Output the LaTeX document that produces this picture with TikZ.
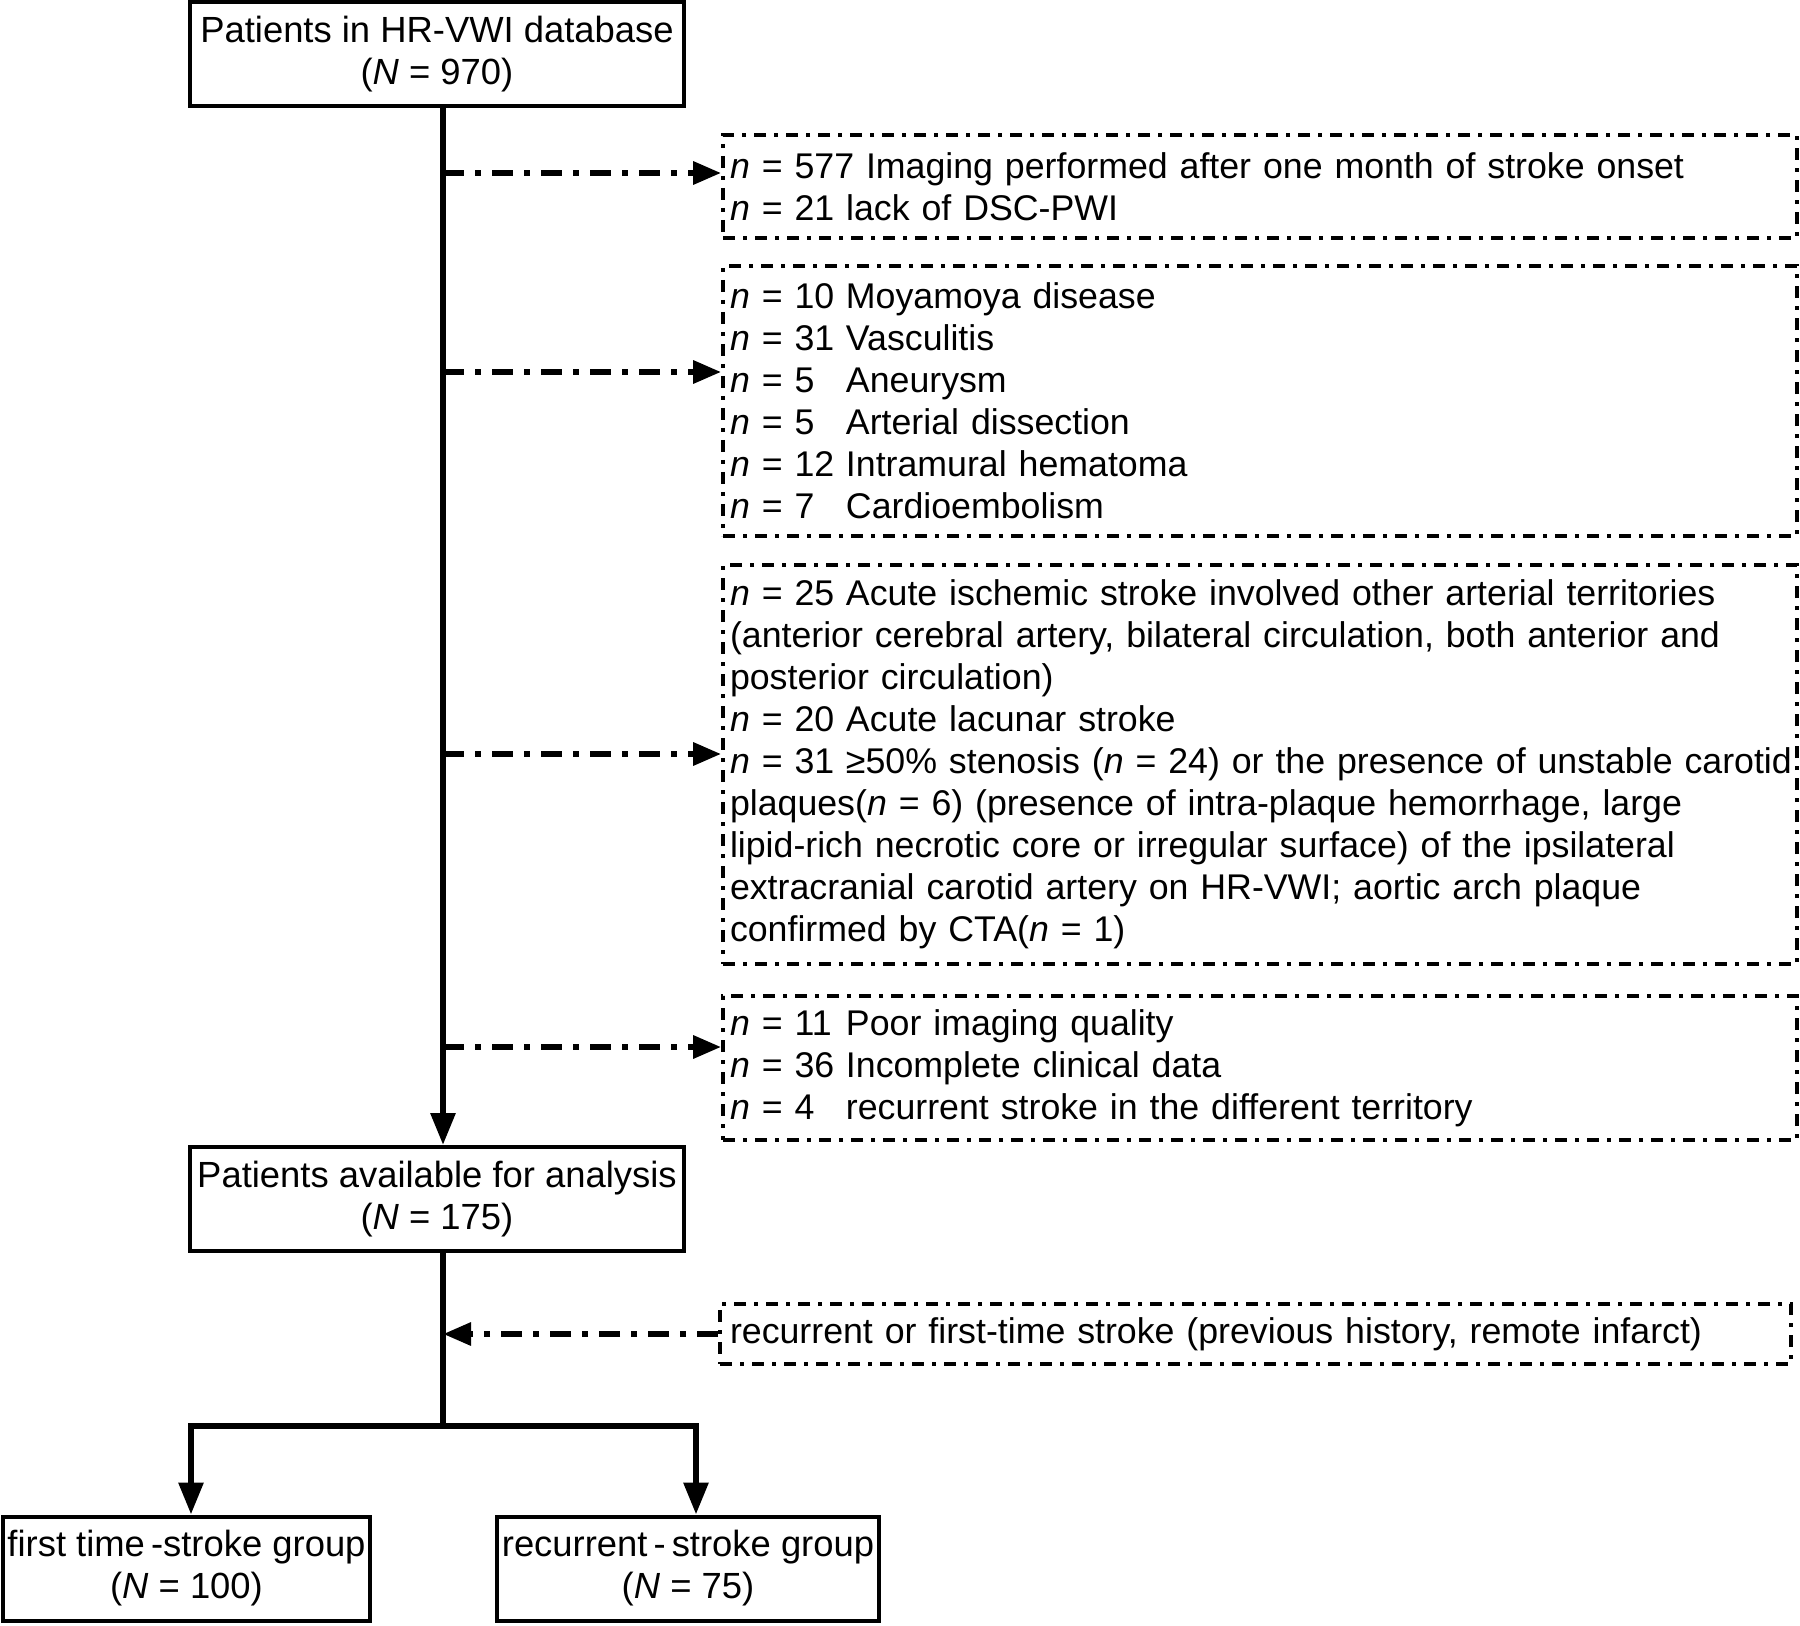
\documentclass[tikz,border=0pt]{standalone}
\usepackage{fontspec}
\setmainfont{Liberation Sans}
\usetikzlibrary{arrows.meta}
\newcommand{\ncount}[1]{\makebox[29pt][l]{\textit{n} = #1}}
\begin{document}
\begin{tikzpicture}[x=0.25pt,y=-0.25pt,
  font=\fontsize{9.1pt}{10.5pt}\selectfont,
  solidbox/.style={draw, line width=1pt, align=center, inner sep=0pt, minimum height=26pt},
  exclbox/.style={draw, line width=0.9pt, dash pattern=on 3pt off 2pt on 1pt off 2pt,
    font=\fontsize{8.93pt}{10.5pt}\selectfont,
    inner xsep=1.75pt, inner ysep=0pt, text width=265pt, align=left},
  mainline/.style={line width=1.5pt},
  tip/.style={-{Triangle[length=8pt,width=6pt]}},
  dasharrow/.style={line width=1.5pt, dash pattern=on 5.25pt off 2.75pt on 1.5pt off 2.75pt,
    -{Triangle[length=7pt,width=5.5pt]}},
]
\useasboundingbox (0,0) rectangle (1800,1626);

% solid boxes
\node[solidbox, minimum width=123.5pt] (top) at (437,54.5)
  {Patients in HR-VWI database\\(\textit{N} = 970)};
\node[solidbox, minimum width=123.5pt] (avail) at (437,1199)
  {Patients available for analysis\\(\textit{N} = 175)};
\node[solidbox, minimum width=91.75pt] (first) at (186.5,1568.5)
  {first time\,-stroke group\\(\textit{N} = 100)};
\node[solidbox, minimum width=95.5pt] (recur) at (688,1568.5)
  {recurrent\,-\,stroke group\\(\textit{N} = 75)};

% exclusion boxes
\node[exclbox, minimum height=25.75pt] (exA) at (1260,186.5)
  {\textit{n} = 577 Imaging performed after one month of stroke onset\\
   \textit{n} = 21 lack of DSC-PWI};
\node[exclbox, minimum height=67.5pt] (exB) at (1260,401)
  {\ncount{10}Moyamoya disease\\
   \ncount{31}Vasculitis\\
   \ncount{5}Aneurysm\\
   \ncount{5}Arterial dissection\\
   \ncount{12}Intramural hematoma\\
   \ncount{7}Cardioembolism};
\node[exclbox, minimum height=99.75pt] (exC) at (1260,764.5)
  {\ncount{25}Acute ischemic stroke involved other arterial territories\\
   (anterior cerebral artery, bilateral circulation, both anterior and\\
   posterior circulation)\\
   \ncount{20}Acute lacunar stroke\\
   \mbox{\ncount{31}≥50\% stenosis (\textit{n} = 24) or the presence of unstable carotid}\\
   plaques(\textit{n} = 6) (presence of intra-plaque hemorrhage, large\\
   lipid-rich necrotic core or irregular surface) of the ipsilateral\\
   extracranial carotid artery on HR-VWI; aortic arch plaque\\
   confirmed by CTA(\textit{n} = 1)};
\node[exclbox, minimum height=36pt] (exD) at (1260,1068)
  {\ncount{11}Poor imaging quality\\
   \ncount{36}Incomplete clinical data\\
   \ncount{4}recurrent stroke in the different territory};
\node[exclbox, minimum height=15pt, inner xsep=2.5pt, text width=262.75pt] (exE) at (1255.5,1334)
  {recurrent or first-time stroke (previous history, remote infarct)};

% trunk coordinates
\coordinate (trunk) at (443,0);
\coordinate (sA) at (443,173);
\coordinate (sB) at (443,372);
\coordinate (sC) at (443,754);
\coordinate (sD) at (443,1047);
\coordinate (sE) at (443,1334);
\coordinate (br) at (443,1426);
\coordinate (bl) at (191,1426);
\coordinate (bR) at (696,1426);

\draw[mainline, tip] (top.south -| trunk) -- (avail.north -| trunk);
\draw[mainline] (avail.south -| trunk) -- (br);
\draw[mainline, tip, line join=miter] (br) -- (bl) -- (bl |- first.north);
\draw[mainline, tip, line join=miter] (br) -- (bR) -- (bR |- recur.north);

\draw[dasharrow] (sA) -- (exA.west |- sA);
\draw[dasharrow] (sB) -- (exB.west |- sB);
\draw[dasharrow] (sC) -- (exC.west |- sC);
\draw[dasharrow] (sD) -- (exD.west |- sD);
\draw[dasharrow] (exE.west) -- (sE);
\end{tikzpicture}
\end{document}
